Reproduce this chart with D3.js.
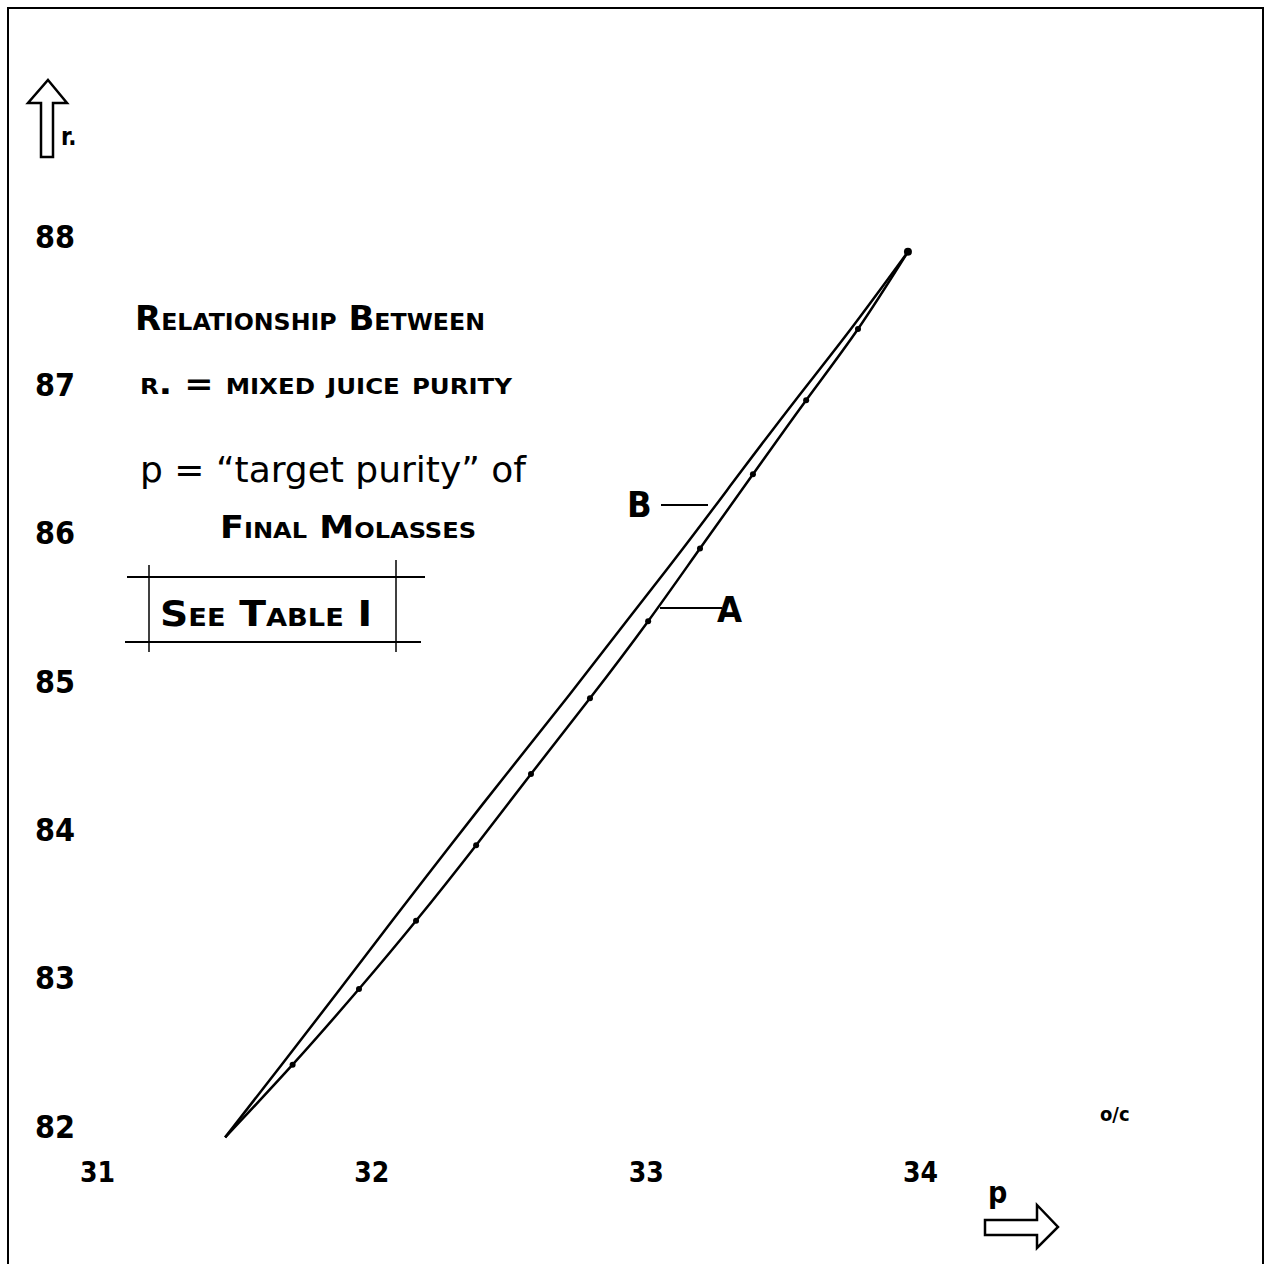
<!DOCTYPE html>
<html>
<head>
<meta charset="utf-8">
<script src="https://cdn.jsdelivr.net/npm/d3@7"></script>
<style>
  body { margin: 0; background: #fff; }
  svg { display: block; }
  text { font-family: "DejaVu Sans Condensed", "DejaVu Sans", sans-serif; fill: #000; }
</style>
</head>
<body>
<div id="chart"></div>
<script>
// tick labels
var pTicks = [31, 32, 33, 34];
var rTicks = [82, 83, 84, 85, 86, 87, 88];

// curve A (with plotted points) : p = target purity, r = mixed juice purity
var pA = [31.467, 31.713, 31.955, 32.163, 32.382, 32.582, 32.797, 33.009, 33.198, 33.391, 33.585, 33.774, 33.956];
var rA = [81.93, 82.42, 82.93, 83.39, 83.90, 84.38, 84.89, 85.41, 85.90, 86.40, 86.90, 87.38, 87.90];

// curve B
var pB = [31.467, 31.673, 31.886, 32.076, 32.289, 32.493, 32.712, 32.930, 33.136, 33.340, 33.546, 33.748, 33.956];
var rB = [81.93, 82.42, 82.93, 83.39, 83.90, 84.38, 84.89, 85.41, 85.90, 86.40, 86.90, 87.38, 87.90];

var w = 1265;
var h = 1264;

var svg = d3
  .select("#chart")
  .append("svg")
  .attr("width", w)
  .attr("height", h);

// frame
svg
  .append("path")
  .attr("d", "M8,1270 V8 H1263 V1270")
  .attr("fill", "none")
  .attr("stroke", "#000")
  .attr("stroke-width", 2);

var xScale = d3.scaleLinear().domain([31, 34]).range([97, 920]);
var yScale = d3.scaleLinear().domain([82, 88]).range([1127, 237]);

// axes: labels only, no lines
var xAxis = d3.axisBottom(xScale).tickValues(pTicks).tickFormat(d3.format("d")).tickSize(0).tickPadding(0);
var yAxis = d3.axisLeft(yScale).tickValues(rTicks).tickFormat(d3.format("d")).tickSize(0).tickPadding(0);

svg
  .append("g")
  .attr("transform", "translate(0,1162)")
  .call(xAxis)
  .call(function (g) { g.select(".domain").remove(); })
  .selectAll("text")
  .attr("font-family", "DejaVu Sans Condensed")
  .attr("font-weight", "bold")
  .style("font-size", "28px");

svg
  .append("g")
  .attr("transform", "translate(75,0)")
  .call(yAxis)
  .call(function (g) { g.select(".domain").remove(); })
  .selectAll("text")
  .attr("font-family", "DejaVu Sans Condensed")
  .attr("font-weight", "bold")
  .style("font-size", "32px");

// curves
var line = d3
  .line()
  .x(function (d) { return xScale(d[0]); })
  .y(function (d) { return yScale(d[1]); })
  .curve(d3.curveNatural);

var ptsA = pA.map(function (p, i) { return [p, rA[i]]; });
var ptsB = pB.map(function (p, i) { return [p, rB[i]]; });

svg
  .append("path")
  .datum(ptsB)
  .attr("d", line)
  .attr("fill", "none")
  .attr("stroke", "#000")
  .attr("stroke-width", 2.5);

svg
  .append("path")
  .datum(ptsA)
  .attr("d", line)
  .attr("fill", "none")
  .attr("stroke", "#000")
  .attr("stroke-width", 2.5);

svg
  .selectAll(".dot")
  .data(ptsA.slice(1))
  .enter()
  .append("circle")
  .attr("class", "dot")
  .attr("cx", function (d) { return xScale(d[0]); })
  .attr("cy", function (d) { return yScale(d[1]); })
  .attr("r", function (d, i) { return i === ptsA.length - 2 ? 4 : 3; })
  .attr("fill", "#000");

// curve labels
svg.append("line").attr("x1", 661).attr("x2", 708).attr("y1", 505).attr("y2", 505)
  .attr("stroke", "#000").attr("stroke-width", 2);
svg.append("line").attr("x1", 660).attr("x2", 722).attr("y1", 608).attr("y2", 608)
  .attr("stroke", "#000").attr("stroke-width", 2);
svg.append("text").attr("x", 627).attr("y", 517).text("B")
  .attr("font-family", "DejaVu Serif").attr("font-weight", "bold").style("font-size", "36px");
svg.append("text").attr("x", 717).attr("y", 622).text("A")
  .attr("font-family", "DejaVu Serif").attr("font-weight", "bold").style("font-size", "36px");

// legend text
function note(x, y, len, size, str) {
  svg
    .append("text")
    .attr("x", x)
    .attr("y", y)
    .attr("textLength", len)
    .attr("lengthAdjust", "spacingAndGlyphs")
    .attr("font-weight", "bold")
    .style("font-variant", "small-caps")
    .style("font-size", size + "px")
    .text(str);
}
note(135, 330, 350, 33, "Relationship  Between");
note(140, 394, 372, 30, "r.  =  mixed  juice  purity");
svg
  .append("text")
  .attr("x", 140)
  .attr("y", 482)
  .attr("textLength", 386)
  .attr("lengthAdjust", "spacingAndGlyphs")
  .style("font-size", "36px")
  .text("p  =  \u201Ctarget  purity\u201D   of");
note(220, 538, 256, 32, "Final  Molasses");

// "See Table I" box
svg.append("line").attr("x1", 127).attr("x2", 425).attr("y1", 577).attr("y2", 577)
  .attr("stroke", "#000").attr("stroke-width", 2);
svg.append("line").attr("x1", 125).attr("x2", 421).attr("y1", 642).attr("y2", 642)
  .attr("stroke", "#000").attr("stroke-width", 2);
svg.append("line").attr("x1", 149).attr("x2", 149).attr("y1", 565).attr("y2", 652)
  .attr("stroke", "#000").attr("stroke-width", 1.5);
svg.append("line").attr("x1", 396).attr("x2", 396).attr("y1", 560).attr("y2", 652)
  .attr("stroke", "#000").attr("stroke-width", 1.5);
note(160, 626, 212, 36, "See  Table  I");

// axis arrows and names
svg
  .append("path")
  .attr("d", "M48,80 L67,103 L53,103 L53,157 L41,157 L41,103 L28,103 Z")
  .attr("fill", "none")
  .attr("stroke", "#000")
  .attr("stroke-width", 2.5);
svg.append("text").attr("x", 61).attr("y", 145).text("r.")
  .attr("font-weight", "bold").style("font-size", "24px");

svg
  .append("path")
  .attr("d", "M985,1220 L1037,1220 L1037,1205 L1058,1227 L1037,1248 L1037,1235 L985,1235 Z")
  .attr("fill", "none")
  .attr("stroke", "#000")
  .attr("stroke-width", 2.5);
svg.append("text").attr("x", 988).attr("y", 1203).text("p")
  .attr("font-weight", "bold").style("font-size", "30px");

svg.append("text").attr("x", 1100).attr("y", 1121).text("o/c")
  .attr("font-weight", "bold").style("font-size", "20px");
</script>
</body>
</html>
